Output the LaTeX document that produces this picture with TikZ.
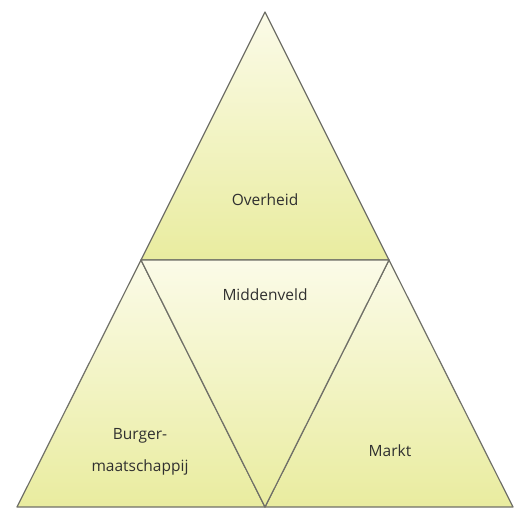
\documentclass[tikz,border=0pt]{standalone}
\usepackage{fontspec}
\setmainfont{Open Sans}
\definecolor{edgegray}{HTML}{707068}
\definecolor{textgray}{HTML}{303030}
\definecolor{paletop}{HTML}{FBFBE8}
\definecolor{yellowbase}{HTML}{E9EC9F}
\begin{document}
\begin{tikzpicture}[x=1pt, y=-1pt,
    part/.style={top color=paletop, bottom color=yellowbase, draw=edgegray, line width=1.2pt, line join=round},
    lbl/.style={font=\fontsize{15.5}{32}\selectfont, text=textgray, align=center}]
  \useasboundingbox (0,0) rectangle (516,508);
  % corners
  \coordinate (apex) at (265,12);
  \coordinate (bl) at (17,507);
  \coordinate (br) at (513,507);
  \coordinate (ml) at (141,260);
  \coordinate (mr) at (389,260);
  \coordinate (mb) at (265,507);

  \shade[part] (apex) -- (mr) -- (ml) -- cycle;
  \shade[part] (ml) -- (mb) -- (bl) -- cycle;
  \shade[part] (mr) -- (br) -- (mb) -- cycle;
  \shade[part] (ml) -- (mr) -- (mb) -- cycle;

  \node[lbl] (overheid) at (265,200) {Overheid};
  \node[lbl] (middenveld) at (265,295) {Middenveld};
  \node[lbl] (burger) at (140,452) {Burger-\\maatschappij};
  \node[lbl] (markt) at (390,451) {Markt};
\end{tikzpicture}
\end{document}
